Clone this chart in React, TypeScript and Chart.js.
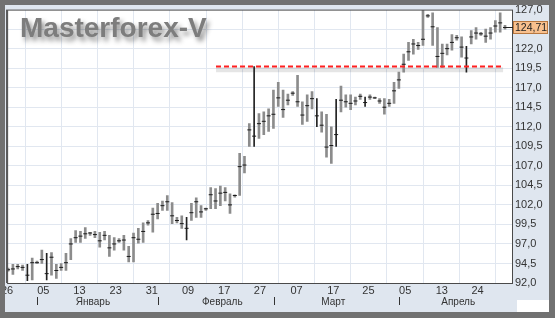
import React, { useEffect, useRef } from 'react';
import { Chart, registerables } from 'chart.js';

Chart.register(...registerables);

// ---- data ----
const lows = [
  93.5, 93.1, 93.8, 93.6, 92.3, 92.4, 94.5, 94.5, 92.4, 93.0,
  92.6, 93.6, 93.6, 95.0, 97.2, 97.2, 97.7, 98.1, 97.8, 96.6,
  97.5, 95.4, 96.2, 97.2, 96.2, 94.7, 94.7, 97.1, 97.2, 99.4,
  98.5, 100.2, 101.3, 101.3, 99.6, 99.7, 99.0, 97.5, 100.0, 100.4,
  100.4, 101.3, 101.5, 101.5, 101.9, 102.5, 100.9, 103.0, 103.2, 106.1,
  109.5, 109.5, 110.5, 111.0, 111.4, 111.8, 114.6, 113.2, 114.8, 116.0,
  114.6, 112.3, 112.7, 114.3, 112.0, 111.3, 108.1, 107.3, 109.5, 113.9,
  114.5, 114.2, 114.8, 115.5, 114.6, 115.5, 115.6, 115.0, 113.6, 114.6,
  115.0, 116.9, 119.0, 120.5, 121.3, 121.9, 122.4, 126.0, 122.4, 119.6,
  119.6, 121.2, 121.8, 123.1, 120.9, 119.0, 122.6, 123.2, 123.7, 122.8,
  123.2, 124.1, 124.1, 124.5,
];
const highs = [
  93.9, 94.4, 94.4, 94.3, 94.4, 95.2, 94.8, 96.2, 95.8, 95.9,
  94.4, 94.5, 95.8, 97.7, 98.7, 98.6, 99.1, 98.5, 98.6, 98.5,
  98.6, 98.1, 97.8, 97.7, 98.1, 96.7, 98.4, 99.0, 99.7, 100.0,
  101.6, 102.2, 102.5, 103.2, 102.3, 100.4, 100.6, 100.4, 102.2, 102.9,
  101.9, 101.6, 104.2, 104.1, 104.4, 104.2, 103.4, 103.3, 108.6, 108.2,
  112.4, 119.7, 113.7, 113.9, 114.3, 116.7, 117.7, 116.7, 116.2, 116.5,
  118.6, 115.2, 116.1, 116.5, 115.6, 113.9, 113.6, 112.0, 115.5, 117.2,
  116.1, 116.1, 115.8, 116.2, 115.8, 116.1, 115.8, 115.6, 115.6, 115.5,
  117.7, 119.0, 121.3, 122.8, 123.2, 122.8, 126.9, 126.4, 126.6, 124.7,
  122.6, 122.6, 123.8, 123.7, 123.5, 122.3, 124.3, 124.7, 124.1, 124.5,
  124.7, 125.6, 126.6, 125.0,
];
const closes = [
  93.7, 93.8, 94.1, 94.0, 93.0, 94.6, 94.6, 95.0, 93.2, 95.3,
  93.6, 94.0, 94.6, 97.0, 97.8, 98.0, 98.3, 98.4, 98.2, 97.4,
  98.1, 96.5, 97.0, 97.4, 97.5, 95.4, 97.8, 97.6, 98.6, 99.7,
  100.8, 100.9, 101.9, 102.4, 100.6, 100.0, 99.6, 99.0, 101.0, 102.4,
  101.1, 101.5, 103.3, 102.5, 103.5, 103.6, 102.0, 103.2, 106.9, 107.1,
  111.6, 110.8, 112.4, 112.7, 113.4, 113.6, 115.7, 114.2, 115.4, 116.3,
  115.2, 113.5, 114.7, 115.6, 113.4, 112.2, 109.4, 109.6, 111.0, 115.4,
  115.2, 115.0, 115.3, 115.9, 115.1, 115.8, 115.7, 115.3, 114.5, 115.0,
  116.6, 118.0, 120.0, 121.6, 122.6, 122.4, 123.2, 126.2, 124.8, 121.0,
  121.4, 122.0, 122.8, 123.4, 122.2, 120.8, 123.5, 124.0, 123.9, 123.6,
  124.0, 124.9, 125.3, 124.71,
];
const darkBars = [4, 8, 37, 51, 64, 68, 74, 95];

const xTickPos = [-0.2, 7.3, 14.8, 22.3, 29.8, 37.3, 44.8, 52.2, 59.8, 67.4, 74.7, 82.3, 89.9, 97.3];
const xTickLabels = ['26', '05', '13', '23', '31', '09', '17', '27', '07', '17', '25', '05', '13', '24'];
const monthLabels = ['Январь', 'Февраль', 'Март', 'Апрель'];
const monthLabelPos = [17.6, 44.4, 67.4, 93.3];
const monthSeparators = [6.0, 31.1, 55.1, 81.0];

const supportLevel = 119.7;
const supportFrom = 43.1;
const supportTo = 102.6;
const lastPrice = 124.71;
const titleText = 'Masterforex-V';

const FONT = '"Liberation Sans", Arial, sans-serif';
const fmt = (v: number, d: number) => v.toFixed(d).replace('.', ',');

const decorPlugin = {
  id: 'decor',
  beforeDraw(chart: any) {
    const { ctx, chartArea: a, width, height } = chart;
    ctx.save();
    ctx.fillStyle = '#dfe6ef';
    ctx.fillRect(0, 0, width, height);
    ctx.fillStyle = '#ffffff';
    ctx.fillRect(a.left, a.top, a.right - a.left, a.bottom - a.top);
    ctx.restore();
  },
  afterDatasetsDraw(chart: any) {
    const { ctx } = chart;
    ctx.save();
    ctx.font = 'bold 28px ' + FONT;
    ctx.textBaseline = 'alphabetic';
    ctx.textAlign = 'left';
    ctx.shadowColor = 'rgba(0,0,0,0.45)';
    ctx.shadowBlur = 5;
    ctx.shadowOffsetX = 3;
    ctx.shadowOffsetY = 4;
    ctx.fillStyle = '#7d7d7d';
    ctx.fillText(titleText, 20, 37);
    ctx.restore();
  },
  afterDraw(chart: any) {
    const { ctx, chartArea: a, width, height } = chart;
    const xs = chart.scales.x;
    const ys = chart.scales.y;
    ctx.save();
    // plot border
    ctx.strokeStyle = '#4a4a4a';
    ctx.lineWidth = 1;
    ctx.strokeRect(a.left + 0.5, a.top + 0.5, a.right - a.left, a.bottom - a.top);
    ctx.fillStyle = '#4a4a4a';
    ctx.fillRect(a.left - 1, a.top, 1, a.bottom - a.top);

    // month labels and separators
    ctx.fillStyle = '#333';
    ctx.font = '10px ' + FONT;
    ctx.textAlign = 'center';
    ctx.textBaseline = 'middle';
    monthLabels.forEach((m, i) => {
      ctx.fillText(m, xs.getPixelForValue(monthLabelPos[i]), 302);
    });
    ctx.strokeStyle = '#333';
    monthSeparators.forEach((p) => {
      const x = Math.round(xs.getPixelForValue(p)) + 0.5;
      ctx.beginPath();
      ctx.moveTo(x, 297);
      ctx.lineTo(x, 305);
      ctx.stroke();
    });

    // last price box
    const py = Math.round(ys.getPixelForValue(lastPrice));
    ctx.strokeStyle = '#222';
    ctx.beginPath();
    ctx.moveTo(a.right - 5, py + 0.5);
    ctx.lineTo(a.right + 1, py + 0.5);
    ctx.stroke();
    ctx.fillStyle = '#f8c08e';
    ctx.fillRect(a.right + 1, py - 6, 35, 13);
    ctx.strokeStyle = '#b8773f';
    ctx.strokeRect(a.right + 1.5, py - 5.5, 34, 12);
    ctx.fillStyle = '#222';
    ctx.font = '10.5px ' + FONT;
    ctx.textAlign = 'left';
    ctx.textBaseline = 'middle';
    ctx.fillText(fmt(lastPrice, 2), a.right + 3, py + 1);

    // white box bottom right
    ctx.fillStyle = '#ffffff';
    ctx.fillRect(517, 300, 32, 12);

    // outer frame
    ctx.fillStyle = '#717171';
    ctx.fillRect(0, 0, width, 5);
    ctx.fillRect(0, 0, 5, height);
    ctx.fillRect(width - 6, 0, 6, height);
    ctx.fillRect(0, height - 6, width, 6);
    ctx.restore();
  },
};

export default function App() {
  const ref = useRef<HTMLCanvasElement | null>(null);

  useEffect(() => {
    if (!ref.current) return;
    Chart.defaults.font.family = FONT;
    const grayBars: any[] = [];
    const blackBars: any[] = [];
    lows.forEach((l, i) => {
      const pt = { x: i, y: [l, highs[i]] };
      if (darkBars.includes(i)) blackBars.push(pt);
      else grayBars.push(pt);
    });

    const chart = new Chart(ref.current, {
      type: 'bar',
      data: {
        datasets: [
          {
            type: 'line',
            label: 'level',
            data: [
              { x: supportFrom, y: supportLevel },
              { x: supportTo, y: supportLevel },
            ],
            borderColor: '#ff2020',
            borderWidth: 2,
            borderDash: [5, 3],
            pointRadius: 0,
            order: 0,
          } as any,
          {
            type: 'line',
            label: 'close',
            data: closes.map((c, i) => ({ x: i, y: c })),
            showLine: false,
            pointStyle: 'line',
            pointRadius: 2,
            borderColor: '#1a1a1a',
            borderWidth: 1,
            order: 1,
          } as any,
          {
            type: 'bar',
            label: 'bars',
            data: grayBars,
            backgroundColor: '#8c8c8c',
            barThickness: 2,
            grouped: false,
            order: 2,
          } as any,
          {
            type: 'bar',
            label: 'barsDark',
            data: blackBars,
            backgroundColor: '#222222',
            barThickness: 1,
            grouped: false,
            order: 2,
          } as any,
          {
            type: 'line',
            label: 'shadow',
            data: [
              { x: supportFrom, y: supportLevel - 0.4 },
              { x: supportTo, y: supportLevel - 0.4 },
            ],
            borderColor: 'rgba(0,0,0,0.10)',
            borderWidth: 5,
            pointRadius: 0,
            order: 3,
          } as any,
        ],
      },
      options: {
        animation: false,
        responsive: false,
        events: [],
        layout: { padding: { left: 7, top: 7, right: 0, bottom: 0 } },
        plugins: { legend: { display: false }, tooltip: { enabled: false }, title: { display: false } },
        scales: {
          x: {
            type: 'linear',
            min: -0.2,
            max: 104.45,
            offset: false,
            afterBuildTicks: (scale: any) => {
              scale.ticks = xTickPos.map((v) => ({ value: v }));
            },
            afterFit: (scale: any) => {
              scale.height = 35;
            },
            grid: { color: '#e1e7f0', drawTicks: false },
            border: { display: false },
            ticks: {
              autoSkip: false,
              maxRotation: 0,
              padding: 1,
              color: '#333',
              font: { size: 11, family: FONT },
              callback: (_v: any, i: number) => xTickLabels[i],
            },
          },
          y: {
            type: 'linear',
            position: 'right',
            min: 92,
            max: 127,
            afterFit: (scale: any) => {
              scale.width = 43;
            },
            grid: { color: '#e1e7f0', drawTicks: false },
            border: { display: false },
            ticks: {
              stepSize: 2.5,
              padding: 3,
              color: '#333',
              font: { size: 11, family: FONT },
              callback: (v: any) => fmt(Number(v), 1),
            },
          },
        },
      } as any,
      plugins: [decorPlugin],
    });
    return () => chart.destroy();
  }, []);

  return (
    <div style={{ position: 'absolute', left: 0, top: 0, width: 555, height: 318 }}>
      <canvas ref={ref} width={555} height={318} style={{ display: 'block' }} />
    </div>
  );
}
